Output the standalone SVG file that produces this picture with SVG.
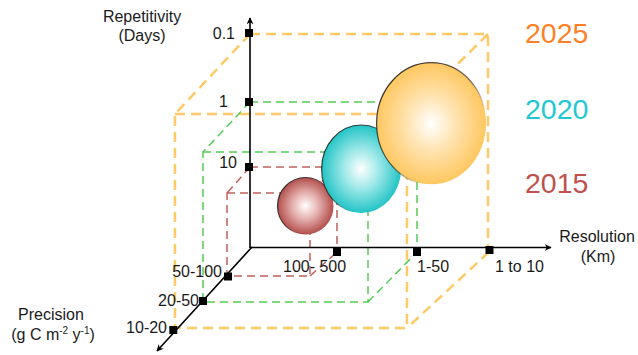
<svg xmlns="http://www.w3.org/2000/svg" width="638" height="355" viewBox="0 0 638 355">
<style>
text{font-family:"Liberation Sans",Arial,sans-serif;font-size:16px;fill:#1a1a1a}
.yr{font-size:28.5px}
.o{stroke:#ffc966;stroke-width:2.5;stroke-dasharray:10 6;fill:none}
.g{stroke:#55cc55;stroke-width:1.5;stroke-dasharray:8 5;fill:none}
.r{stroke:#c0605c;stroke-width:1.5;stroke-dasharray:8 5;fill:none}
.ax{stroke:#000;stroke-width:1.6;fill:none}
.tk{fill:#000}
</style>
<defs>
<marker id="arr" viewBox="0 0 10 10" refX="9" refY="5" markerWidth="7" markerHeight="7" orient="auto" markerUnits="userSpaceOnUse">
<path d="M0,0 L10,5 L0,10 L3,5 z" fill="#000"/>
</marker>
<radialGradient id="gr" cx="0.5" cy="0.5" r="0.5"><stop offset="0" stop-color="#fff"/><stop offset="0.45" stop-color="#e6b3b1"/><stop offset="1" stop-color="#b24f4b"/></radialGradient>
<radialGradient id="gc" cx="0.5" cy="0.5" r="0.5"><stop offset="0" stop-color="#fff"/><stop offset="0.45" stop-color="#9ee8e8"/><stop offset="1" stop-color="#23c4c6"/></radialGradient>
<radialGradient id="go" cx="0.5" cy="0.5" r="0.5"><stop offset="0" stop-color="#fff"/><stop offset="0.45" stop-color="#ffe3b0"/><stop offset="1" stop-color="#ffc760"/></radialGradient>
<linearGradient id="edge" x1="0" y1="0" x2="1" y2="1"><stop offset="0" stop-color="#111" stop-opacity="0.95"/><stop offset="0.5" stop-color="#111" stop-opacity="0.6"/><stop offset="0.7" stop-color="#111" stop-opacity="0"/></linearGradient>
</defs>

<g id="connectors">
<g id="box-2025">
<path class="o" d="M250,34 H488 V250 M250,34 L175,114 M488,34 L407,114 M489,252 L407,328 M175,114 H407 V328 H175 Z"/>
</g>
<g id="box-2020">
<path class="g" d="M250,102 H417 V248 M250,102 L203,152 M417,102 L368,152 M368,302 L417,252 M203,152 H368 V302 H203 Z"/>
</g>
<g id="box-2015">
<path class="r" d="M250,167 H337 V248 M250,167 L227,193 M337,167 L310,193 M310,276 L337,252 M227,193 H310 V276 H227 Z"/>
</g>
<g id="axes">
<line class="ax" x1="250" y1="248" x2="250" y2="18" marker-end="url(#arr)"/>
<line class="ax" x1="250" y1="247.5" x2="551" y2="247.5" marker-end="url(#arr)"/>
<line class="ax" x1="252" y1="247" x2="157" y2="351" marker-end="url(#arr)"/>
</g>
</g>

<g id="sphere-2015">
<ellipse cx="305.5" cy="206" rx="28" ry="28.5" fill="url(#gr)" stroke="url(#edge)" stroke-width="1.2"/>
</g>
<g id="sphere-2020">
<ellipse cx="361.3" cy="169" rx="39.7" ry="44" fill="url(#gc)" stroke="url(#edge)" stroke-width="1.2"/>
</g>
<g id="sphere-2025">
<ellipse cx="431.3" cy="123.5" rx="54.7" ry="60.8" fill="url(#go)" stroke="url(#edge)" stroke-width="1.2"/>
</g>

<g id="ticks">
<rect class="tk" x="245" y="29" width="8" height="8"/>
<rect class="tk" x="245" y="98" width="8" height="8"/>
<rect class="tk" x="245" y="163" width="8" height="8"/>
<rect class="tk" x="333" y="248" width="8" height="8"/>
<rect class="tk" x="413" y="248" width="8" height="8"/>
<rect class="tk" x="485.5" y="246" width="8" height="8"/>
<rect class="tk" x="224" y="272.5" width="8" height="8"/>
<rect class="tk" x="199" y="297" width="8" height="8"/>
<rect class="tk" x="169.3" y="326" width="8" height="8"/>
</g>

<g id="axis-repetitivity">
<text x="142" y="21.5" text-anchor="middle">Repetitivity</text>
<text x="142" y="41" text-anchor="middle">(Days)</text>
<text x="235" y="39" text-anchor="end">0.1</text>
<text x="228" y="107" text-anchor="end">1</text>
<text x="237" y="168" text-anchor="end">10</text>
</g>
<g id="axis-resolution">
<text x="597" y="242" text-anchor="middle">Resolution</text>
<text x="598" y="262" text-anchor="middle">(Km)</text>
<text x="283" y="272">100- 500</text>
<text x="417" y="272">1-50</text>
<text x="495" y="272">1 to 10</text>
</g>
<g id="axis-precision">
<text x="51" y="320" text-anchor="middle">Precision</text>
<text x="53" y="340" text-anchor="middle">(g C m<tspan font-size="10" dy="-6">-2</tspan><tspan dy="6"> y</tspan><tspan font-size="10" dy="-6">-1</tspan><tspan dy="6">)</tspan></text>
<text x="222" y="277" text-anchor="end">50-100</text>
<text x="199" y="306" text-anchor="end">20-50</text>
<text x="167" y="333" text-anchor="end">10-20</text>
</g>

<g id="legend">
<text class="yr" x="525" y="42.7" style="fill:#ff7f27">2025</text>
<text class="yr" x="525" y="119.3" style="fill:#1ec8d2">2020</text>
<text class="yr" x="525" y="192.7" style="fill:#c0504d">2015</text>
</g>
</svg>
